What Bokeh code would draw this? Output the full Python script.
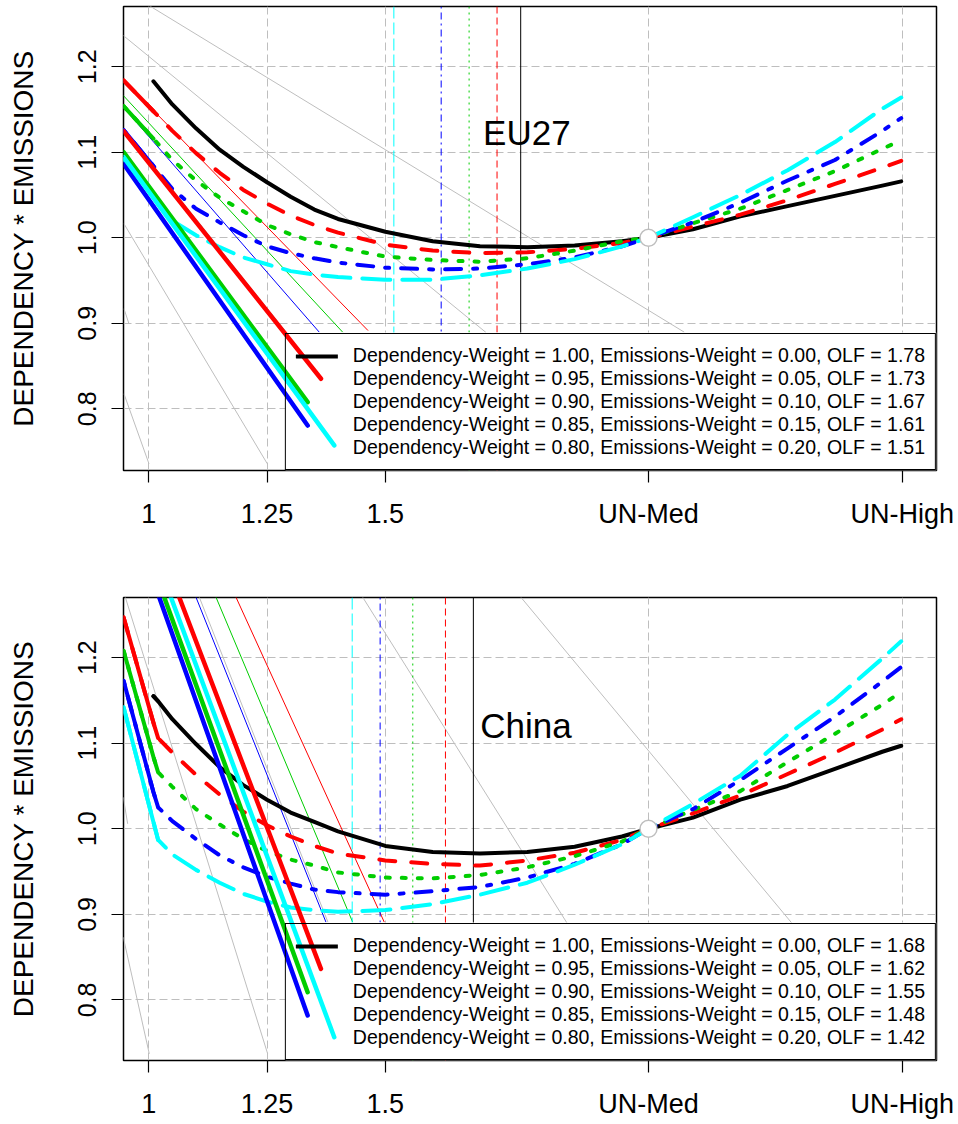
from bokeh.plotting import figure
from bokeh.models import FixedTicker, Legend, LegendItem, Range1d
from bokeh.layouts import column
from bokeh.embed import file_html
from bokeh.resources import INLINE
from bokeh.core.properties import value

NAN = float("nan")
FONT = "Liberation Sans"

# ---------------- shared categories / styles ----------------
dependency_weight = [1.00, 0.95, 0.90, 0.85, 0.80]
emissions_weight = [0.00, 0.05, 0.10, 0.15, 0.20]
series_colors = ["#000000", "#FF0000", "#00CD00", "#0000FF", "#00FFFF"]
curve_dashes = ["solid", "16 16", "4 12", "4 12 16 12", "28 12"]
olf_dashes = ["solid", "7 4", "2 4", "2 4 7 4", "12 4"]
line_colors = ["#FF0000", "#00CD00", "#0000FF", "#00FFFF"]   # red, green, blue, cyan

x_ticks = [1.0, 1.25, 1.5, 2.056, 2.592]
x_tick_labels = ["1", "1.25", "1.5", "UN-Med", "UN-High"]
y_ticks = [0.8, 0.9, 1.0, 1.1, 1.2]
y_tick_labels = ["0.8", "0.9", "1.0", "1.1", "1.2"]
anchor_x = [2.056]
anchor_y = [1.0]

# ---------------- EU27 ----------------
eu_x = [0.947, 1.01, 1.05, 1.10, 1.15, 1.20, 1.25, 1.30, 1.35, 1.40, 1.50, 1.60,
        1.70, 1.80, 1.90, 2.00, 2.056, 2.15, 2.25, 2.35, 2.45, 2.55, 2.59]
eu_dep100 = [NAN, 1.183, 1.156, 1.128, 1.103, 1.083, 1.065, 1.048, 1.033, 1.022, 1.007, 0.996,
             0.990, 0.989, 0.991, 0.996, 1.000, 1.010, 1.025, 1.037, 1.049, 1.061, 1.066]
eu_dep095 = [1.184, 1.148, 1.125, 1.099, 1.076, 1.056, 1.040, 1.026, 1.015, 1.006, 0.992, 0.985,
             0.982, 0.983, 0.987, 0.994, 1.000, 1.013, 1.027, 1.044, 1.063, 1.082, 1.090]
eu_dep090 = [1.154, 1.116, 1.091, 1.067, 1.047, 1.031, 1.015, 1.004, 0.995, 0.989, 0.978, 0.974,
             0.972, 0.976, 0.985, 0.996, 1.000, 1.017, 1.034, 1.056, 1.078, 1.104, 1.114]
eu_dep085 = [1.126, 1.084, 1.057, 1.034, 1.018, 1.003, 0.990, 0.982, 0.976, 0.971, 0.965, 0.963,
             0.964, 0.969, 0.977, 0.990, 1.000, 1.018, 1.041, 1.067, 1.091, 1.125, 1.140]
eu_dep080 = [1.092, 1.049, 1.020, 1.003, 0.989, 0.977, 0.969, 0.961, 0.957, 0.954, 0.951, 0.951,
             0.956, 0.964, 0.975, 0.990, 1.000, 1.024, 1.050, 1.079, 1.112, 1.151, 1.164]
eu_olf = [1.78, 1.73, 1.67, 1.61, 1.51]
eu_olf_pos = [1.786, 1.736, 1.677, 1.618, 1.518]
# thin straight lines (red, green, blue, cyan)
eu_thin_x0 = [0.9464, 0.9464, 0.9464, 0.9464]
eu_thin_y0 = [1.1851, 1.1664, 1.1527, 1.1282]
eu_thin_x1 = [1.4634, 1.4099, 1.3604, 1.2901]
eu_thin_y1 = [0.8915, 0.8896, 0.8896, 0.8896]
# thick straight lines (red, green, blue, cyan)
eu_thick_x0 = [0.9470, 0.9470, 0.9470, 0.9470]
eu_thick_y0 = [1.1247, 1.1001, 1.0865, 1.0943]
eu_thick_x1 = [1.3641, 1.3359, 1.3359, 1.3921]
eu_thick_y1 = [0.8351, 0.8077, 0.7804, 0.7571]
# grey reference lines
eu_gray_x0 = [1.0007, 0.9463, 0.9478, 0.9478, 0.9478]
eu_gray_y0 = [1.2717, 1.2366, 1.0164, 0.9170, 0.8175]
eu_gray_x1 = [2.1316, 1.7127, 1.2506, 0.9584, 1.0006]
eu_gray_y1 = [0.8896, 0.8892, 0.7357, 0.8994, 0.7357]

# ---------------- China ----------------
cn_x = [0.947, 1.01, 1.02, 1.05, 1.10, 1.15, 1.20, 1.25, 1.30, 1.35, 1.40, 1.50, 1.60,
        1.70, 1.80, 1.90, 2.00, 2.056, 2.15, 2.25, 2.35, 2.45, 2.55, 2.59]
cn_dep100 = [NAN, 1.155, 1.149, 1.128, 1.099, 1.072, 1.051, 1.034, 1.019, 1.008, 0.997, 0.980, 0.973,
             0.971, 0.973, 0.979, 0.991, 1.000, 1.013, 1.034, 1.050, 1.070, 1.090, 1.097]
cn_dep095 = [1.247, 1.124, 1.106, 1.089, 1.063, 1.040, 1.020, 1.004, 0.991, 0.980, 0.971, 0.963, 0.959,
             0.957, 0.963, 0.972, 0.987, 1.000, 1.018, 1.039, 1.064, 1.089, 1.116, 1.128]
cn_dep090 = [1.208, 1.084, 1.066, 1.049, 1.023, 1.005, 0.988, 0.974, 0.964, 0.957, 0.949, 0.943, 0.942,
             0.946, 0.955, 0.968, 0.985, 1.000, 1.022, 1.044, 1.078, 1.111, 1.145, 1.160]
cn_dep085 = [1.173, 1.043, 1.025, 1.009, 0.988, 0.969, 0.955, 0.944, 0.936, 0.929, 0.926, 0.923, 0.927,
             0.932, 0.943, 0.959, 0.982, 1.000, 1.023, 1.057, 1.094, 1.131, 1.172, 1.189]
cn_dep080 = [1.142, 1.008, 0.987, 0.970, 0.952, 0.937, 0.924, 0.915, 0.908, 0.905, 0.903, 0.905, 0.912,
             0.923, 0.937, 0.958, 0.982, 1.000, 1.029, 1.062, 1.110, 1.151, 1.199, 1.219]
cn_olf = [1.68, 1.62, 1.55, 1.48, 1.42]
cn_olf_pos = [1.686, 1.627, 1.558, 1.489, 1.430]
# thin straight lines (red, green, blue)
cn_thin_x0 = [1.1844, 1.1422, 1.0999]
cn_thin_y0 = [1.2706, 1.2706, 1.2706]
cn_thin_x1 = [1.4978, 1.4310, 1.3746]
cn_thin_y1 = [0.8909, 0.8909, 0.8909]
# thick straight lines (red, green, blue, cyan)
cn_thick_x0 = [1.0647, 1.0330, 1.0224, 1.0471]
cn_thick_y0 = [1.2702, 1.2702, 1.2702, 1.2702]
cn_thick_x1 = [1.3640, 1.3359, 1.3359, 1.3921]
cn_thick_y1 = [0.8364, 0.8091, 0.7819, 0.7565]
# grey reference lines
cn_gray_x0 = [0.9506, 0.9463, 0.9463, 1.1069, 1.4521, 1.7866]
cn_gray_y0 = [1.2706, 1.0369, 0.8734, 1.2706, 1.2706, 1.2704]
cn_gray_x1 = [1.2514, 0.9556, 1.0013, 1.3788, 1.8853, 2.3607]
cn_gray_y1 = [0.7371, 1.0058, 0.7371, 0.8909, 0.8886, 0.8886]

X_LO, X_HI = 0.9468, 2.6645
FRAME_W = 813
# legend box geometry in pixels (padding 10, glyph 42, standoff 15, rows of ~23.4 px)
LEGEND_W_PX = 651
LEGEND_H_PX = 138


def make_panel(name, name_xy, xs, curves, n_solid, olf, olf_pos, thin, thin_colors, thick, gray,
               y_lo, y_hi, frame_h, border_top, border_bottom):
    p = figure(frame_width=FRAME_W, frame_height=frame_h,
               x_range=Range1d(X_LO, X_HI), y_range=Range1d(y_lo, y_hi),
               output_backend="svg", toolbar_location=None,
               min_border_left=123, min_border_right=22,
               min_border_top=border_top, min_border_bottom=border_bottom,
               background_fill_color="white", border_fill_color="white")

    # axes
    p.xaxis.ticker = FixedTicker(ticks=x_ticks)
    p.xaxis.major_label_overrides = dict(zip(x_ticks, x_tick_labels))
    p.yaxis.ticker = FixedTicker(ticks=y_ticks)
    p.yaxis.major_label_overrides = dict(zip(y_ticks, y_tick_labels))
    for ax in (p.xaxis[0], p.yaxis[0]):
        ax.major_tick_out = 12
        ax.major_tick_in = 0
        ax.minor_tick_out = 0
        ax.minor_tick_in = 0
        ax.major_tick_line_color = "black"
        ax.major_tick_line_width = 1.2
        ax.axis_line_color = None
        ax.major_label_text_font = FONT
        ax.major_label_text_color = "black"
    p.xaxis.major_label_text_font_size = "27px"
    p.xaxis.major_label_standoff = 16
    p.yaxis.major_label_text_font_size = "25px"
    p.yaxis.major_label_orientation = "vertical"
    p.yaxis.major_label_standoff = 15
    p.yaxis.axis_label = "DEPENDENCY * EMISSIONS"
    p.yaxis.axis_label_text_font = FONT
    p.yaxis.axis_label_text_font_size = "28px"
    p.yaxis.axis_label_text_font_style = "normal"
    p.yaxis.axis_label_text_color = "black"
    p.yaxis.axis_label_standoff = 37

    p.xgrid.ticker = FixedTicker(ticks=x_ticks)
    p.ygrid.ticker = FixedTicker(ticks=y_ticks)
    p.grid.grid_line_color = "#BEBEBE"
    p.grid.grid_line_dash = "8 4"
    p.grid.grid_line_width = 1

    p.outline_line_color = "black"
    p.outline_line_width = 1.5
    p.outline_line_alpha = 1.0

    # grey reference lines
    gx0, gy0, gx1, gy1 = gray
    p.segment(x0=gx0, y0=gy0, x1=gx1, y1=gy1, line_color="#BEBEBE", line_width=1)

    # thin straight lines
    tx0, ty0, tx1, ty1 = thin
    p.segment(x0=tx0, y0=ty0, x1=tx1, y1=ty1, line_color=thin_colors, line_width=1)

    # OLF vertical lines
    for pos, col, dash in zip(olf_pos, series_colors, olf_dashes):
        p.segment(x0=[pos], y0=[y_hi], x1=[pos], y1=[y_lo], line_color=col,
                  line_width=1, line_dash=dash)

    # curves
    curve_renderers = []
    for ys, col, dash in zip(curves, series_colors, curve_dashes):
        r = p.line(x=xs, y=ys, line_color=col, line_width=4, line_dash=dash,
                   line_cap="round", line_join="round")
        curve_renderers.append(r)
        # the steep first stretch of each curve is drawn solid in the original
        p.line(x=xs[:n_solid], y=ys[:n_solid], line_color=col, line_width=4,
               line_cap="round", line_join="round")

    # anchor point
    p.scatter(x=anchor_x, y=anchor_y, size=17, marker="circle", fill_color="white",
              line_color="#BEBEBE", line_width=1.5)

    # panel title
    p.text(x=[name_xy[0]], y=[name_xy[1]], text=[name], text_font=value(FONT),
           text_font_size="35px", text_align="center", text_baseline="middle",
           text_color="black")

    # white legend background (glyph, so that the thick lines can be painted over it)
    box_left = X_HI - LEGEND_W_PX * (X_HI - X_LO) / FRAME_W
    box_top = y_lo + LEGEND_H_PX * (y_hi - y_lo) / frame_h
    p.quad(left=[box_left], right=[X_HI], bottom=[y_lo], top=[box_top],
           fill_color="white", line_color=None)

    # thick straight lines, over the legend background
    kx0, ky0, kx1, ky1 = thick
    p.segment(x0=kx0, y0=ky0, x1=kx1, y1=ky1, line_color=line_colors, line_width=4.5,
              line_cap="round")

    # legend (text, border, sample)
    labels = ["Dependency-Weight = %.2f, Emissions-Weight = %.2f, OLF = %.2f" % (d, e, o)
              for d, e, o in zip(dependency_weight, emissions_weight, olf)]
    items = [LegendItem(label=labels[0], renderers=[curve_renderers[0]])]
    for lab in labels[1:]:
        dummy = p.line(x=[], y=[], line_alpha=0)
        items.append(LegendItem(label=lab, renderers=[dummy]))
    legend = Legend(items=items, location="bottom_right", margin=0, padding=10, spacing=0,
                    glyph_width=42, glyph_height=22, label_height=22, label_standoff=15,
                    label_text_font=FONT, label_text_font_size="19.5px",
                    label_text_color="black",
                    border_line_color="black", border_line_width=1.2, border_line_alpha=1.0,
                    background_fill_alpha=0.0)
    p.add_layout(legend)
    return p


p1 = make_panel("EU27", (1.799, 1.123), eu_x,
                [eu_dep100, eu_dep095, eu_dep090, eu_dep085, eu_dep080], 2,
                eu_olf, eu_olf_pos,
                (eu_thin_x0, eu_thin_y0, eu_thin_x1, eu_thin_y1), line_colors,
                (eu_thick_x0, eu_thick_y0, eu_thick_x1, eu_thick_y1),
                (eu_gray_x0, eu_gray_y0, eu_gray_x1, eu_gray_y1),
                0.7278, 1.2705, 464, 6, 100)

p2 = make_panel("China", (1.797, 1.121), cn_x,
                [cn_dep100, cn_dep095, cn_dep090, cn_dep085, cn_dep080], 3,
                cn_olf, cn_olf_pos,
                (cn_thin_x0, cn_thin_y0, cn_thin_x1, cn_thin_y1), line_colors[:3],
                (cn_thick_x0, cn_thick_y0, cn_thick_x1, cn_thick_y1),
                (cn_gray_x0, cn_gray_y0, cn_gray_x1, cn_gray_y1),
                0.7293, 1.2702, 463, 27, 60)

layout = column(p1, p2)
open("out.html", "w").write(file_html(layout, INLINE))
